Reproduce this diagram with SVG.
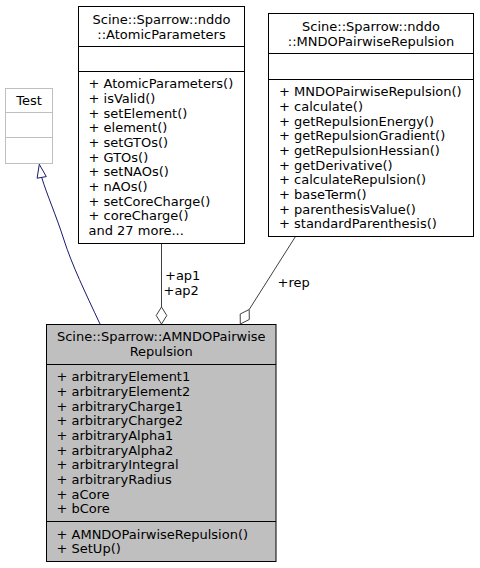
<svg xmlns="http://www.w3.org/2000/svg" width="480" height="568" viewBox="0 0 480 568">
<style>
text{font-family:"DejaVu Sans","Liberation Sans",sans-serif;font-size:13px;fill:#000}
.c{text-anchor:middle}
.box{fill:#fff;stroke:#000;stroke-width:1}
.div{stroke:#000;stroke-width:1}
.agg{fill:none;stroke:#404040;stroke-width:1}
.dia{fill:#fff;stroke:#404040;stroke-width:1}
</style>
<rect width="480" height="568" fill="#fff"/>
<g id="connectors">
<path d="M100,324 C85,292 72,265 64,240 C56,215 47,195 41.7,177.4" fill="none" stroke="#191970" stroke-width="1"/>
<polygon points="39.3,164.3 46.3,176.6 37.1,178.2" fill="#fff" stroke="#191970" stroke-width="1"/>
<line class="agg" x1="161.5" y1="243.5" x2="161.5" y2="307"/>
<polygon class="dia" points="161.5,324 156.2,315.5 161.5,307 166.8,315.5"/>
<text x="165" y="279.5">+ap1</text>
<text x="163.5" y="294.5">+ap2</text>
<line class="agg" x1="249.2" y1="309.5" x2="295.5" y2="236.5"/>
<polygon class="dia" points="240.3,324 240.2,314 249.2,309.5 249.3,319.5"/>
<text x="277.5" y="287">+rep</text>
</g>
<g id="Test">
<rect x="5.5" y="88.5" width="47" height="75" fill="#fff" stroke="#bfbfbf"/>
<line x1="5.5" y1="112.5" x2="52.5" y2="112.5" stroke="#bfbfbf"/>
<line x1="5.5" y1="137.5" x2="52.5" y2="137.5" stroke="#bfbfbf"/>
<text class="c" x="29" y="104.5">Test</text>
</g>
<g id="AtomicParameters">
<rect class="box" x="78.5" y="6.5" width="166" height="237"/>
<line class="div" x1="78.5" y1="46.5" x2="244.5" y2="46.5"/>
<line class="div" x1="78.5" y1="71.5" x2="244.5" y2="71.5"/>
<text class="c" x="161.5" y="24">Scine::Sparrow::nddo</text>
<text class="c" x="161.5" y="38.5">::AtomicParameters</text>
<text x="88.5" y="88.3">+ AtomicParameters()</text>
<text x="88.5" y="103">+ isValid()</text>
<text x="88.5" y="117.6">+ setElement()</text>
<text x="88.5" y="132.3">+ element()</text>
<text x="88.5" y="147">+ setGTOs()</text>
<text x="88.5" y="161.6">+ GTOs()</text>
<text x="88.5" y="176.3">+ setNAOs()</text>
<text x="88.5" y="191">+ nAOs()</text>
<text x="88.5" y="205.6">+ setCoreCharge()</text>
<text x="88.5" y="220.3">+ coreCharge()</text>
<text x="88.5" y="235">and 27 more...</text>
</g>
<g id="MNDOPairwiseRepulsion">
<rect class="box" x="268.5" y="13.5" width="205" height="223"/>
<line class="div" x1="268.5" y1="53.5" x2="473.5" y2="53.5"/>
<line class="div" x1="268.5" y1="79.5" x2="473.5" y2="79.5"/>
<text class="c" x="371" y="31">Scine::Sparrow::nddo</text>
<text class="c" x="371" y="45.5">::MNDOPairwiseRepulsion</text>
<text x="279" y="96.3">+ MNDOPairwiseRepulsion()</text>
<text x="279" y="111">+ calculate()</text>
<text x="279" y="125.6">+ getRepulsionEnergy()</text>
<text x="279" y="140.3">+ getRepulsionGradient()</text>
<text x="279" y="155">+ getRepulsionHessian()</text>
<text x="279" y="169.6">+ getDerivative()</text>
<text x="279" y="184.3">+ calculateRepulsion()</text>
<text x="279" y="199">+ baseTerm()</text>
<text x="279" y="213.6">+ parenthesisValue()</text>
<text x="279" y="228.3">+ standardParenthesis()</text>
</g>
<g id="AMNDOPairwiseRepulsion">
<rect x="46.5" y="324.5" width="229.5" height="237" fill="#bfbfbf" stroke="#000"/>
<line class="div" x1="46.5" y1="364.5" x2="276" y2="364.5"/>
<line class="div" x1="46.5" y1="521.5" x2="276" y2="521.5"/>
<text class="c" x="161.25" y="341">Scine::Sparrow::AMNDOPairwise</text>
<text class="c" x="161.25" y="355.5">Repulsion</text>
<text x="56.5" y="381.3">+ arbitraryElement1</text>
<text x="56.5" y="396">+ arbitraryElement2</text>
<text x="56.5" y="410.6">+ arbitraryCharge1</text>
<text x="56.5" y="425.3">+ arbitraryCharge2</text>
<text x="56.5" y="440">+ arbitraryAlpha1</text>
<text x="56.5" y="454.6">+ arbitraryAlpha2</text>
<text x="56.5" y="469.3">+ arbitraryIntegral</text>
<text x="56.5" y="484">+ arbitraryRadius</text>
<text x="56.5" y="498.6">+ aCore</text>
<text x="56.5" y="513.3">+ bCore</text>
<text x="56.5" y="538.5">+ AMNDOPairwiseRepulsion()</text>
<text x="56.5" y="553.2">+ SetUp()</text>
</g>
</svg>
